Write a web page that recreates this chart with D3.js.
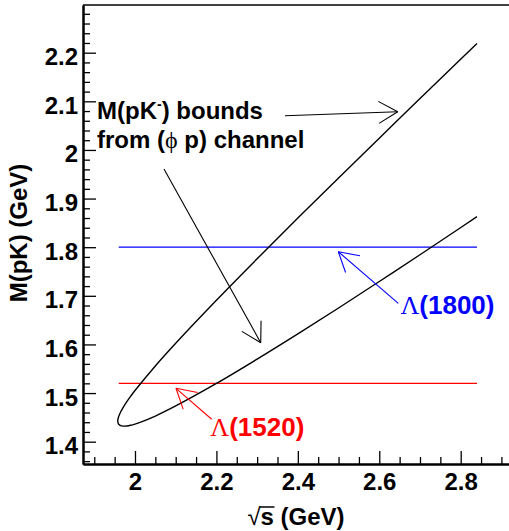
<!DOCTYPE html>
<html><head><meta charset="utf-8">
<script src="https://cdn.jsdelivr.net/npm/d3@7"></script>
<style>
body{margin:0;background:#fff;}
svg{display:block;}
text{font-family:"Liberation Sans",Arial,Helvetica,sans-serif;font-weight:bold;fill:#000;}
</style>
</head><body>
<svg id="c" width="509" height="531"></svg>
<script>
// ---- data ----
const sqrtS  = [1.95773, 1.958, 1.959, 1.96, 1.965, 1.97, 1.98, 1.99, 2.0, 2.05, 2.1, 2.2, 2.3, 2.4, 2.5, 2.6, 2.7, 2.77, 2.84];
const mUpper = [1.4424, 1.4454, 1.4492, 1.4519, 1.4616, 1.4692, 1.4824, 1.4942, 1.5053, 1.5558, 1.6024, 1.6908, 1.7761, 1.8598, 1.9424, 2.0243, 2.1057, 2.1624, 2.2190];
const mLower = [1.4424, 1.4398, 1.4373, 1.4360, 1.4330, 1.4321, 1.4323, 1.4339, 1.4361, 1.4527, 1.4734, 1.5197, 1.5697, 1.6216, 1.6750, 1.7294, 1.7845, 1.8235, 1.8628];
const resonanceNames  = ["(1520)", "(1800)"];
const resonanceMasses = [1.52, 1.80];
const resonanceRange  = [1.96, 2.84];
const xTickValues = [2.0, 2.2, 2.4, 2.6, 2.8];
const xTickLabels = ["2", "2.2", "2.4", "2.6", "2.8"];
const yTickValues = [1.4, 1.5, 1.6, 1.7, 1.8, 1.9, 2.0, 2.1, 2.2];
const yTickLabels = ["1.4", "1.5", "1.6", "1.7", "1.8", "1.9", "2", "2.1", "2.2"];

// ---- layout / style ----
const resonanceColors = ["#ff0000", "#0000ff"];
const svg = d3.select("#c");
const L = 83, T = 5, R = 512, B = 464;
const x = d3.scaleLinear().domain([1.8723, 2.926]).range([L, R]);
const y = d3.scaleLinear().domain([1.3541, 2.2981]).range([B, T]);

// frame top
svg.append("line").attr("x1", L).attr("x2", R).attr("y1", T).attr("y2", T)
  .attr("stroke", "#000").attr("stroke-width", 1.4);

// minor ticks
const xMinor = d3.range(1.9, 2.926, 0.05).filter(v => !xTickValues.some(t => Math.abs(t - v) < 1e-6));
const yMinor = d3.range(1.36, 2.2981, 0.02).filter(v => !yTickValues.some(t => Math.abs(t - v) < 1e-6));

function styleAxis(g){
  g.select(".domain").attr("stroke", "#000").attr("stroke-width", 2);
  g.selectAll(".tick line").attr("stroke", "#000").attr("stroke-width", 1.3);
}
const gxMin = svg.append("g").attr("transform", `translate(0,${B})`)
  .call(d3.axisBottom(x).tickValues(xMinor).tickSizeInner(-7).tickSizeOuter(0).tickFormat(""));
styleAxis(gxMin);
const gyMin = svg.append("g").attr("transform", `translate(${L},0)`)
  .call(d3.axisLeft(y).tickValues(yMinor).tickSizeInner(-7).tickSizeOuter(0).tickFormat(""));
styleAxis(gyMin);

const gx = svg.append("g").attr("transform", `translate(0,${B})`)
  .call(d3.axisBottom(x).tickValues(xTickValues).tickSizeInner(-13).tickSizeOuter(0).tickPadding(9)
    .tickFormat((d, i) => xTickLabels[i]));
styleAxis(gx);
gx.selectAll("text").attr("font-size", 24).attr("fill", "#000");
gx.attr("font-family", null).attr("font-size", null);

const gy = svg.append("g").attr("transform", `translate(${L},0)`)
  .call(d3.axisLeft(y).tickValues(yTickValues).tickSizeInner(-13).tickSizeOuter(0).tickPadding(5)
    .tickFormat((d, i) => yTickLabels[i]));
styleAxis(gy);
gy.selectAll("text").attr("font-size", 24).attr("dy", "0.5em").attr("fill", "#000");
gy.attr("font-family", null).attr("font-size", null);

// axis titles
svg.append("text").attr("transform", "translate(27,233) rotate(-90)")
  .attr("text-anchor", "middle").attr("font-size", 24).text("M(pK) (GeV)");
const xt = svg.append("text").attr("x", 296).attr("y", 525)
  .attr("text-anchor", "middle").attr("font-size", 24);
xt.append("tspan").attr("font-weight", "normal").text("\u221A");
xt.append("tspan").text("s (GeV)");
{
  const node = xt.node();
  const e = node.getExtentOfChar(1);
  svg.append("line").attr("x1", e.x - 1).attr("x2", e.x + e.width + 0.5)
    .attr("y1", e.y + 4).attr("y2", e.y + 4).attr("stroke", "#000").attr("stroke-width", 1.5);
}

// resonance lines
resonanceMasses.forEach((m, i) => {
  svg.append("line")
    .attr("x1", x(resonanceRange[0])).attr("x2", x(resonanceRange[1]))
    .attr("y1", y(m)).attr("y2", y(m))
    .attr("stroke", resonanceColors[i]).attr("stroke-width", 1.3);
});

// kinematic bound curve
const pts = sqrtS.map((s, i) => [s, mUpper[i]]).reverse()
  .concat(sqrtS.slice(1).map((s, i) => [s, mLower[i + 1]]));
svg.append("path").attr("d", d3.line().x(d => x(d[0])).y(d => y(d[1]))
    .curve(d3.curveCatmullRom.alpha(0.5))(pts))
  .attr("fill", "none").attr("stroke", "#000").attr("stroke-width", 1.4);

// arrows (data coordinates)
function arrow(x0, y0, x1, y1, color){
  const px0 = x(x0), py0 = y(y0), px1 = x(x1), py1 = y(y1);
  const a = Math.atan2(py0 - py1, px0 - px1);
  const len = 22, h = Math.PI / 6;
  const g = svg.append("g").attr("stroke", color).attr("stroke-width", 1.1).attr("fill", "none");
  g.append("line").attr("x1", px0).attr("y1", py0).attr("x2", px1).attr("y2", py1);
  [a - h, a + h].forEach(b => g.append("line").attr("x1", px1).attr("y1", py1)
    .attr("x2", px1 + len * Math.cos(b)).attr("y2", py1 + len * Math.sin(b)));
}
arrow(2.3685, 2.0704, 2.6453, 2.0787, "#000");
arrow(2.0712, 1.9608, 2.3088, 1.6036, "#000");
arrow(2.6468, 1.6846, 2.4994, 1.7907, resonanceColors[1]);
arrow(2.1884, 1.4461, 2.1007, 1.5098, resonanceColors[0]);

// annotation text
const t1 = svg.append("text").attr("x", x(1.9067)).attr("y", y(2.0637)).attr("font-size", 24);
t1.append("tspan").text("M(pK");
t1.append("tspan").attr("font-size", 14).attr("dy", -10).text("-");
t1.append("tspan").attr("dy", 10).text(") bounds");
const t2 = svg.append("text").attr("x", x(1.9067)).attr("y", y(2.004)).attr("font-size", 24);
t2.append("tspan").text("from (");
t2.append("tspan").attr("font-family", "'Liberation Serif','DejaVu Serif',serif").attr("font-weight", "normal").text("\u03D5");
t2.append("tspan").text(" p) channel");

// resonance labels
const labelPos = [[2.185, 1.4117], [2.652, 1.662]];
resonanceNames.forEach((n, i) => {
  const t = svg.append("text").attr("x", x(labelPos[i][0])).attr("y", y(labelPos[i][1]))
    .attr("font-size", 26).attr("fill", resonanceColors[i]).style("fill", resonanceColors[i]);
  t.append("tspan").attr("font-family", "'Liberation Serif','DejaVu Serif',serif").attr("font-weight", "normal").text("\u039B");
  t.append("tspan").text(n);
});
</script>
</body></html>
